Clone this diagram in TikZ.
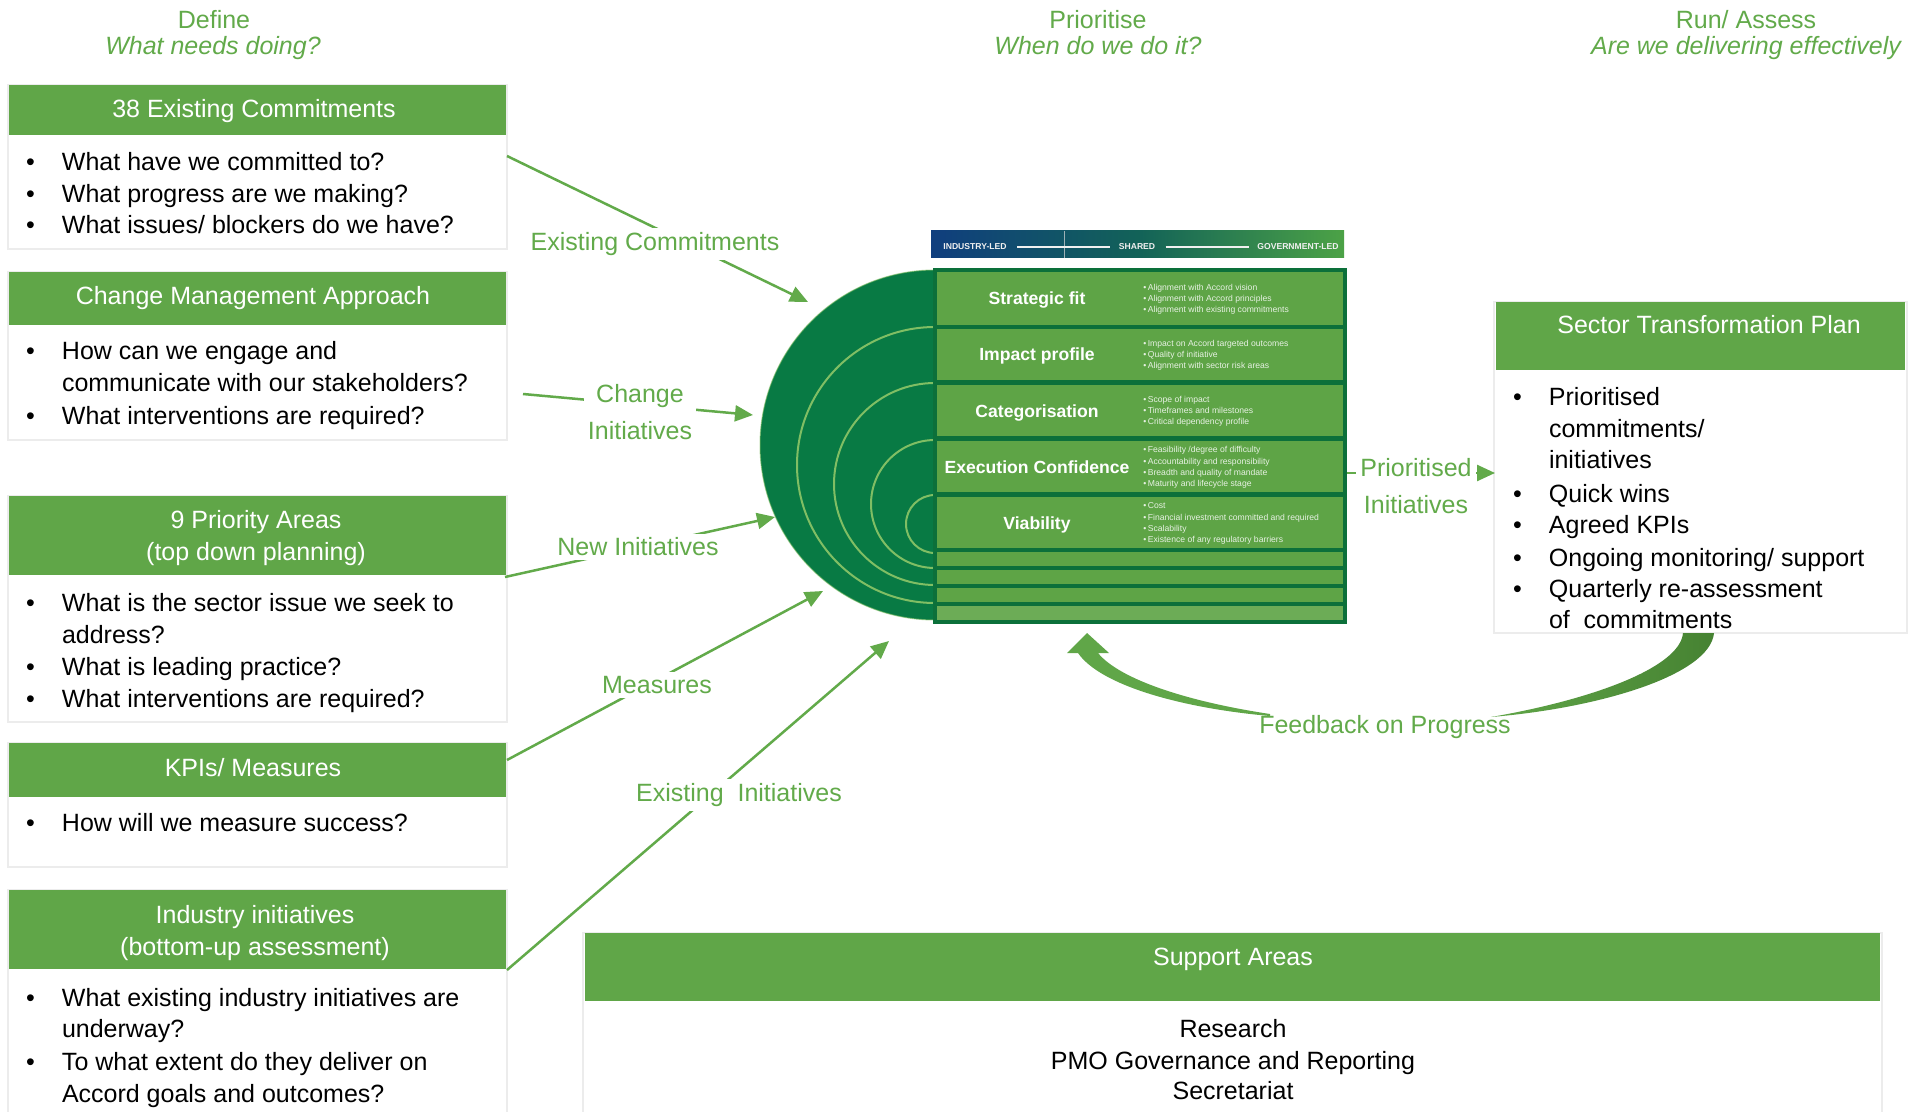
\documentclass[tikz,border=0pt]{standalone}
\usepackage{fontspec}
\setmainfont{Liberation Sans}
\usetikzlibrary{arrows.meta}
\definecolor{hdrgreen}{RGB}{96,166,72}
\definecolor{lblgreen}{RGB}{98,170,74}
\definecolor{darkgreen}{RGB}{8,122,68}
\definecolor{rowgreen}{RGB}{94,164,70}
\definecolor{rowlast}{RGB}{108,172,86}
\definecolor{rowborder}{RGB}{12,112,58}
\definecolor{arcline}{RGB}{128,190,100}
\definecolor{boxline}{RGB}{236,236,236}
\definecolor{navy}{RGB}{16,62,126}
\definecolor{bannermid}{RGB}{18,98,88}
\definecolor{bannergreen}{RGB}{76,162,70}
\definecolor{fbdark}{RGB}{70,130,50}
\newcommand\bl[4]{\node[bodyt] (#1) at (#2,#3) {\makebox[18pt][l]{\textbullet}#4};}
\newcommand\cl[4]{\node[bodyt] (#1) at (#2,#3) {\hspace*{18pt}#4};}
\newcommand\rb[4]{\node[rowbul] (#1) at (#2,#3) {\textbullet\,#4};}
\begin{document}
\begin{tikzpicture}[x=0.5pt,y=-0.5pt,
  panel/.style={anchor=north west,inner sep=0pt,outer sep=0pt,fill=white,draw=boxline,line width=0.6pt},
  hdr/.style={anchor=north west,inner sep=0pt,outer sep=0pt,fill=hdrgreen,draw=none},
  hdrtext/.style={text=white,font=\fontsize{12.5}{16}\selectfont,inner sep=0pt,anchor=base},
  bodyt/.style={text=black,font=\fontsize{12.5}{15}\selectfont,inner sep=0pt,anchor=base west},
  centert/.style={text=black,font=\fontsize{12.5}{15}\selectfont,inner sep=0pt,anchor=base},
  phase/.style={text=lblgreen,font=\fontsize{12.5}{15}\selectfont,inner sep=0pt,anchor=base},
  flow/.style={draw=lblgreen,line width=1.25pt,-{Triangle[length=9pt,width=8pt]}},
  flowlabel/.style={text=lblgreen,fill=white,font=\fontsize{12.5}{18.5}\selectfont,align=center,inner sep=2pt},
  rowtitle/.style={text=white,font=\fontsize{8.8}{10}\selectfont\bfseries,anchor=base,inner sep=0pt},
  rowbul/.style={text=white!85!rowgreen,font=\fontsize{4.3}{5.5}\selectfont,anchor=base west,inner sep=0pt},
  bannertext/.style={text=white!88!gray,font=\fontsize{4.3}{5}\selectfont\bfseries,inner sep=0pt},
  bannerline/.style={draw=white!88!gray,line width=1pt}
]
\useasboundingbox (0,0) rectangle (1920,1112);
\fill[white] (0,0) rectangle (1920,1112);

% phase headings
\node[phase] (def) at (214,29) {Define};
\node[phase,font=\fontsize{12.5}{15}\selectfont\itshape] (defq) at (213,55) {What needs doing?};
\node[phase] (pri) at (1098,29) {Prioritise};
\node[phase,font=\fontsize{12.5}{15}\selectfont\itshape] (priq) at (1098,55) {When do we do it?};
\node[phase] (run) at (1746,29) {Run/ Assess};
\node[phase,font=\fontsize{12.5}{15}\selectfont\itshape] (runq) at (1746,55) {Are we delivering effectively};

% left panels
\node[panel,minimum width=249.5pt,minimum height=82pt] (p1) at (8,85) {};
\node[hdr,minimum width=248.5pt,minimum height=25pt] (h1) at (9,85) {};
\node[hdrtext] (h1t) at (254,118) {38 Existing Commitments};
\bl{p1a}{25.6}{171}{What have we committed to?}
\bl{p1b}{25.6}{203}{What progress are we making?}
\bl{p1c}{25.6}{234}{What issues/ blockers do we have?}

\node[panel,minimum width=249.5pt,minimum height=84pt] (p2) at (8,272) {};
\node[hdr,minimum width=248.5pt,minimum height=26.5pt] (h2) at (9,272) {};
\node[hdrtext] (h2t) at (253,305) {Change Management Approach};
\bl{p2a}{25.6}{359}{How can we engage and}
\cl{p2b}{25.6}{392}{communicate with our stakeholders?}
\bl{p2c}{25.6}{424}{What interventions are required?}

\node[panel,minimum width=249.5pt,minimum height=113pt] (p3) at (8,496) {};
\node[hdr,minimum width=248.5pt,minimum height=39.5pt] (h3) at (9,496) {};
\node[hdrtext] (h3t) at (256,528) {9 Priority Areas};
\node[hdrtext] (h3u) at (256,560) {(top down planning)};
\bl{p3a}{25.6}{611}{What is the sector issue we seek to}
\cl{p3b}{25.6}{643}{address?}
\bl{p3c}{25.6}{675}{What is leading practice?}
\bl{p3d}{25.6}{707}{What interventions are required?}

\node[panel,minimum width=249.5pt,minimum height=62pt] (p4) at (8,743) {};
\node[hdr,minimum width=248.5pt,minimum height=27pt] (h4) at (9,743) {};
\node[hdrtext] (h4t) at (253,776) {KPIs/ Measures};
\bl{p4a}{25.6}{831}{How will we measure success?}

\node[panel,minimum width=249.5pt,minimum height=115pt] (p5) at (8,890) {};
\node[hdr,minimum width=248.5pt,minimum height=39.5pt] (h5) at (9,890) {};
\node[hdrtext] (h5t) at (255,923) {Industry initiatives};
\node[hdrtext] (h5u) at (255,955) {(bottom-up assessment)};
\bl{p5a}{25.6}{1006}{What existing industry initiatives are}
\cl{p5b}{25.6}{1037}{underway?}
\bl{p5c}{25.6}{1070}{To what extent do they deliver on}
\cl{p5d}{25.6}{1102}{Accord goals and outcomes?}

% sector transformation plan
\node[panel,minimum width=206.5pt,minimum height=165.5pt] (stp) at (1494,302) {};
\node[hdr,minimum width=204.5pt,minimum height=34pt] (stph) at (1496,302) {};
\node[hdrtext] (stpt) at (1709,334) {Sector Transformation Plan};
\bl{s1}{1512.6}{405}{Prioritised}
\cl{s2}{1512.6}{437}{commitments/}
\cl{s3}{1512.6}{468}{initiatives}
\bl{s4}{1512.6}{502}{Quick wins}
\bl{s5}{1512.6}{533}{Agreed KPIs}
\bl{s6}{1512.6}{566}{Ongoing monitoring/ support}
\bl{s7}{1512.6}{597}{Quarterly re-assessment}
\cl{s8}{1512.6}{628}{of\ \ commitments}

% support areas
\node[panel,minimum width=649.5pt,minimum height=93.5pt] (sup) at (583,933) {};
\node[hdr,minimum width=647.5pt,minimum height=34pt] (suph) at (585,933) {};
\node[hdrtext] (supt) at (1233,965) {Support Areas};
\node[centert] (sup1) at (1233,1037) {Research};
\node[centert] (sup2) at (1233,1069) {PMO Governance and Reporting};
\node[centert] (sup3) at (1233,1099) {Secretariat};

% central graphic: half circle
\fill[darkgreen] (935,270) arc[start angle=90,end angle=270,radius=87.5pt] -- cycle;
\draw[arcline,line width=0.5pt,opacity=0.6] (935,270) arc[start angle=90,end angle=270,radius=87.5pt];
\draw[arcline,line width=1pt] (935,327) arc[start angle=90,end angle=270,radius=69pt];
\draw[arcline,line width=1pt] (935,383) arc[start angle=90,end angle=270,radius=50.5pt];
\draw[arcline,line width=1pt] (935,440) arc[start angle=90,end angle=270,radius=32pt];
\draw[arcline,line width=1pt] (935,495) arc[start angle=90,end angle=270,radius=14.5pt];

% table
\node[anchor=north west,inner sep=0pt,outer sep=0pt,fill=rowborder,minimum width=207pt,minimum height=178pt] (tbl) at (933,268) {};
\foreach \t/\b in {272/325,329/380,385/436,441/492,497/548,552/566,570/584,588/602}
  \fill[rowgreen] (937,\t) rectangle (1343,\b);
\fill[rowlast] (937,606) rectangle (1343,620);

\node[rowtitle] (r1) at (1037,305) {Strategic fit};
\node[rowtitle] (r2) at (1037,361) {Impact profile};
\node[rowtitle] (r3) at (1037,417) {Categorisation};
\node[rowtitle] (r4) at (1037,473) {Execution Confidence};
\node[rowtitle] (r5) at (1037,529) {Viability};

\rb{r1a}{1143}{290.5}{Alignment with Accord vision}
\rb{r1b}{1143}{301.5}{Alignment with Accord principles}
\rb{r1c}{1143}{312.5}{Alignment with existing commitments}
\rb{r2a}{1143}{346.5}{Impact on Accord targeted outcomes}
\rb{r2b}{1143}{357.5}{Quality of initiative}
\rb{r2c}{1143}{368.5}{Alignment with sector risk areas}
\rb{r3a}{1143}{402.5}{Scope of impact}
\rb{r3b}{1143}{413.5}{Timeframes and milestones}
\rb{r3c}{1143}{424.5}{Critical dependency profile}
\rb{r4a}{1143}{452.5}{Feasibility /degree of difficulty}
\rb{r4b}{1143}{464}{Accountability and responsibility}
\rb{r4c}{1143}{475.5}{Breadth and quality of mandate}
\rb{r4d}{1143}{486.5}{Maturity and lifecycle stage}
\rb{r5a}{1143}{508.5}{Cost}
\rb{r5b}{1143}{520}{Financial investment committed and required}
\rb{r5c}{1143}{531}{Scalability}
\rb{r5d}{1143}{542.5}{Existence of any regulatory barriers}

% banner
\shade[left color=navy,right color=bannergreen,middle color=bannermid] (931,231) rectangle (1344,258);
\draw[white!70!gray,opacity=0.7,line width=0.4pt] (1064,231) -- (1064,258);
\node[bannertext] (bn1) at (975,247) {INDUSTRY-LED};
\node[bannertext] (bn2) at (1137,247) {SHARED};
\node[bannertext] (bn3) at (1298,247) {GOVERNMENT-LED};
\draw[bannerline] ([xshift=5pt]bn1.east) -- ([xshift=-4pt]bn2.west);
\draw[bannerline] ([xshift=5pt]bn2.east) -- ([xshift=-4pt]bn3.west);

% connectors
\coordinate (s1o) at (507,156);  \coordinate (t1) at (808,302);
\coordinate (s2o) at (523,394);  \coordinate (t2) at (753,415);
\coordinate (s3o) at (505,577);  \coordinate (t3) at (775,517);
\coordinate (s4o) at (507,760);  \coordinate (t4) at (823,591);
\coordinate (s5o) at (507,970);  \coordinate (t5) at (889,641);
\coordinate (pl) at (0,473);
\draw[flow] (s1o) -- (t1);
\draw[flow] (s2o) -- (t2);
\draw[flow] (s3o) -- (t3);
\draw[flow] (s4o) -- (t4);
\draw[flow] (s5o) -- (t5);
\draw[flow] (tbl.east |- pl) -- ([xshift=0.5pt]stp.west |- pl);

\node[flowlabel] (l1) at (655,244) {Existing Commitments};
\node[flowlabel] (l2) at (640,412) {Change\\Initiatives};
\node[flowlabel] (l3) at (638,547) {New Initiatives};
\node[flowlabel] (l4) at (657,685) {Measures};
\node[flowlabel] (l5) at (739,795) {Existing\ \ Initiatives};
\node[flowlabel] (l6) at (1416,486) {Prioritised\\Initiatives};

% feedback curved arrow
\shade[left color=hdrgreen,right color=fbdark] (1683,633) -- (1714,633) .. controls (1710,675) and (1600,708) .. (1491,717) .. controls (1590,700) and (1680,668) .. (1683,633) -- cycle;
\fill[hdrgreen] (1067,653) -- (1087,633) -- (1109,653) -- (1098,653) .. controls (1120,680) and (1190,702) .. (1270,714) -- (1270,716) .. controls (1180,708) and (1100,685) .. (1078,653) -- cycle;
\node[text=lblgreen,font=\fontsize{12.5}{15}\selectfont,inner sep=0pt] (fb) at (1385,727) {Feedback on Progress};
\end{tikzpicture}
\end{document}
